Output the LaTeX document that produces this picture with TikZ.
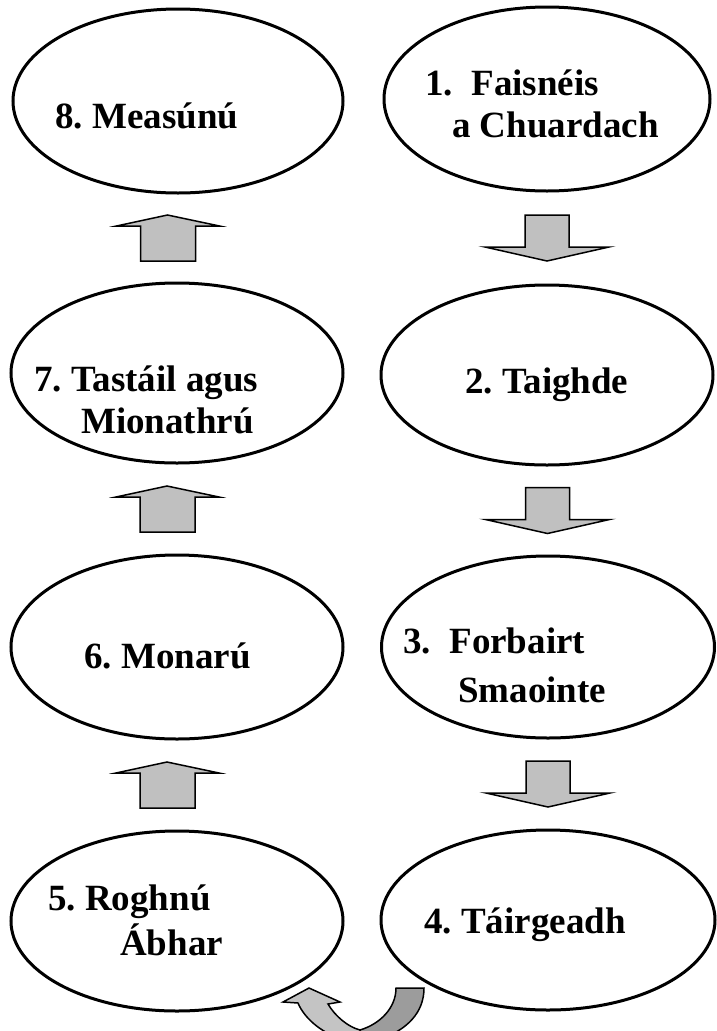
\documentclass[tikz,border=0pt]{standalone}
\usepackage{fontspec}
\setmainfont{Liberation Serif}
\usetikzlibrary{shapes.geometric,calc}
\definecolor{arrowgray}{HTML}{C0C0C0}
\definecolor{curvelight}{HTML}{C4C4C4}
\definecolor{curvedark}{HTML}{9C9C9C}
\tikzset{
  stage/.style={ellipse, draw=black, line width=3pt, fill=white, inner sep=0pt},
  label/.style={anchor=base west, inner sep=0pt, font=\bfseries\fontsize{37}{44}\selectfont\frenchspacing},
  blockarrow/.style={draw=black, line width=1.5pt, fill=arrowgray, line join=miter},
  curvearrow/.style={draw=black, line width=1.5pt, line join=miter}
}
\begin{document}
\begin{tikzpicture}[x=1pt,y=-1pt]
\useasboundingbox (0,0) rectangle (717,1031);
\clip (0,0) rectangle (717,1031);
% stages
\node[stage, minimum width=330pt, minimum height=184pt] (e8) at (178,101) {};
\node[stage, minimum width=326pt, minimum height=184pt] (e1) at (547,99) {};
\node[stage, minimum width=332pt, minimum height=180pt] (e7) at (177,373) {};
\node[stage, minimum width=332pt, minimum height=180pt] (e2) at (547,375) {};
\node[stage, minimum width=332pt, minimum height=184pt] (e6) at (177,647) {};
\node[stage, minimum width=333pt, minimum height=182pt] (e3) at (548,647) {};
\node[stage, minimum width=332pt, minimum height=180pt] (e5) at (177,921) {};
\node[stage, minimum width=334pt, minimum height=180pt] (e4) at (548,920) {};
% labels
\node[label] (t8) at (55,128) {8. Measúnú};
\node[label] (t1a) at (425,95) {1.\hspace{0.5em}Faisnéis};
\node[label] (t1b) at (452,137) {a Chuardach};
\node[label] (t7a) at (34,391) {7. Tastáil agus};
\node[label] (t7b) at (81,433) {Mionathrú};
\node[label] (t2) at (465,393) {2. Taighde};
\node[label] (t6) at (84,668) {6. Monarú};
\node[label] (t3a) at (403,653) {3.\hspace{0.5em}Forbairt};
\node[label] (t3b) at (458,702) {Smaointe};
\node[label] (t5a) at (48,910) {5. Roghnú};
\node[label] (t5b) at (120,955) {Ábhar};
\node[label] (t4) at (424,933) {4. Táirgeadh};
% down arrows (right column)
\foreach \a/\b/\n in {e1/e2/d12, e2/e3/d23, e3/e4/d34}{
  \coordinate (\n) at ($(\a.south)!0.5!(\b.north)$);
  \draw[blockarrow, shift={(\n)}] (-22,-23) -- (22,-23) -- (22,9) -- (62,9) -- (0,23) -- (-62,9) -- (-22,9) -- cycle;
}
% up arrows (left column)
\foreach \a/\b/\n in {e5/e6/u56, e6/e7/u67, e7/e8/u78}{
  \coordinate (\n) at ($(\a.north)!0.5!(\b.south)+(-10,0)$);
  \draw[blockarrow, shift={(\n)}] (0,-23) -- (52,-12) -- (28,-12) -- (28,23) -- (-27,23) -- (-27,-12) -- (-51,-12) -- cycle;
}
% curved arrow from 4 to 5
\draw[curvearrow, fill=curvedark] (396,988) -- (424,988) .. controls (424,1012) and (408,1030) .. (378,1040) -- (360,1040) -- (360,1030) .. controls (380,1024) and (396,1008) .. (396,988) -- cycle;
\draw[curvearrow, fill=curvelight] (309,988) -- (340,1002) -- (328,1004) .. controls (335,1016) and (348,1027) .. (360,1030) -- (360,1040) -- (345,1040) .. controls (325,1035) and (305,1020) .. (298,1003) -- (283,1002) -- cycle;
\end{tikzpicture}
\end{document}
